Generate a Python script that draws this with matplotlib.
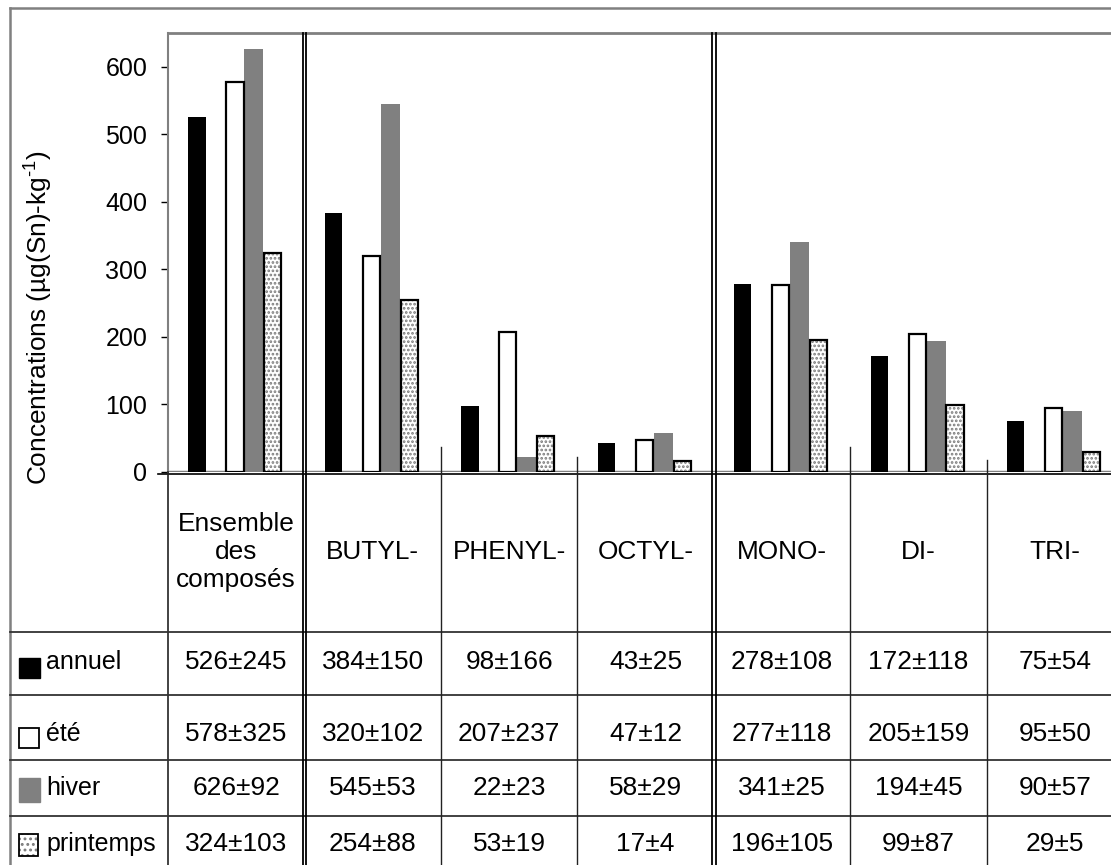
import numpy as np
import matplotlib.pyplot as plt
from matplotlib import font_manager
from matplotlib.patches import Rectangle
from matplotlib.transforms import blended_transform_factory

# donnees
categories = ['Ensemble\ndes\ncomposés', 'BUTYL-', 'PHENYL-', 'OCTYL-',
              'MONO-', 'DI-', 'TRI-']
saisons = ['annuel', 'été', 'hiver', 'printemps']
annuel = [526, 384, 98, 43, 278, 172, 75]
ete = [578, 320, 207, 47, 277, 205, 95]
hiver = [626, 545, 22, 58, 341, 194, 90]
printemps = [324, 254, 53, 17, 196, 99, 29]
annuel_sd = [245, 150, 166, 25, 108, 118, 54]
ete_sd = [325, 102, 237, 12, 118, 159, 50]
hiver_sd = [92, 53, 23, 29, 25, 45, 57]
printemps_sd = [103, 88, 19, 4, 105, 87, 5]
yticks = [0, 100, 200, 300, 400, 500, 600]

# police etroite si dispo
noms = {f.name for f in font_manager.fontManager.ttflist}
if 'Liberation Sans Narrow' in noms:
    fam, k = 'Liberation Sans Narrow', 1.0
else:
    fam, k = 'Liberation Sans', 0.9
plt.rcParams['font.family'] = [fam, 'DejaVu Sans']
plt.rcParams['hatch.linewidth'] = 1.3

W, H = 1111, 865
GRIS = '#808080'
fig = plt.figure(figsize=(W / 100, H / 100), dpi=100)

ax = fig.add_axes([168 / W, 1 - 472 / H, 1 - 168 / W, (472 - 33) / H])
x = np.arange(len(categories))
pas = 0.139
lw = 0.127
dx = -0.01

ax.bar(x - 2 * pas + dx, annuel, lw, color='black', zorder=3)
ax.bar(x + dx, ete, lw, color='white', edgecolor='black', linewidth=1.6, zorder=3)
ax.bar(x + pas + dx, hiver, pas, color=GRIS, zorder=2)
ax.bar(x + 2 * pas + dx, printemps, lw, color='white', edgecolor='#7a7a7a',
       hatch='....', linewidth=0, zorder=3)
ax.bar(x + 2 * pas + dx, printemps, lw, fill=False, edgecolor='black',
       linewidth=1.6, zorder=4)

ax.set_xlim(-0.5, 6.41)
ax.set_ylim(0, 650)
ax.set_yticks(yticks)
ax.set_xticks([])
ax.tick_params(axis='y', direction='out', length=5, width=1, pad=10,
               labelsize=20 * k)
for s in ['right', 'bottom']:
    ax.spines[s].set_visible(False)
ax.spines['top'].set_color(GRIS)
ax.spines['left'].set_color(GRIS)
ax.spines['top'].set_linewidth(2)
ax.spines['left'].set_linewidth(1.5)
ax.axhline(0, color=GRIS, lw=2.5, zorder=1)

# calque pour le tableau (coordonnees pixels)
fr = fig.add_axes([0, 0, 1, 1], zorder=5)
fr.set_xlim(0, W)
fr.set_ylim(H, 0)
fr.axis('off')
tr = blended_transform_factory(ax.transData, fr.transData)

fr.plot([10, W], [8, 8], color=GRIS, lw=1.8)
fr.plot([10, 10], [8, H], color=GRIS, lw=1.8)
fr.plot([158, W], [473.5, 473.5], color='black', lw=1.2)
fr.plot([168, 168], [472, H], color='#222222', lw=1.2)
for yy in [632, 695, 760, 816]:
    fr.plot([10, W], [yy, yy], color='#333333', lw=1.3)

# separations de groupes (doubles) et colonnes
for b in [0.5, 3.5]:
    for d in [-0.012, 0.012]:
        fr.plot([b + d, b + d], [33, H], color='black', lw=1.3, transform=tr)
for b, y0 in zip([1.5, 2.5, 4.5, 5.5], [447, 457, 447, 460]):
    fr.plot([b, b], [y0, H], color='#222222', lw=1.0, transform=tr)

fr.text(38, 318, 'Concentrations (µg(Sn)-kg$^{\\mathregular{\u20101}}$)',
        rotation=90, ha='center', va='center', fontsize=21 * k)

# entetes
for i, c in enumerate(categories):
    fr.text(i, 552, c, transform=tr, ha='center', va='center',
            fontsize=21 * k, linespacing=1.22)

# lignes du tableau
valeurs = [(annuel, annuel_sd), (ete, ete_sd), (hiver, hiver_sd),
           (printemps, printemps_sd)]
ytxt = [662, 734, 788, 844]
yc = [668, 738, 790, 845]
for r, (nom, (v, sd)) in enumerate(zip(saisons, valeurs)):
    for i in range(len(categories)):
        fr.text(i, ytxt[r], f'{v[i]}±{sd[i]}', transform=tr, ha='center',
                va='center', fontsize=21 * k)
    fr.text(46, ytxt[r], nom, ha='left', va='center', fontsize=20 * k)

fr.add_patch(Rectangle((19, yc[0] - 10), 21, 20, facecolor='black',
                       edgecolor='black', lw=1))
fr.add_patch(Rectangle((19, yc[1] - 10), 20, 20, facecolor='white',
                       edgecolor='black', lw=1.3))
fr.add_patch(Rectangle((19, yc[2] - 12), 21, 24, facecolor=GRIS,
                       edgecolor=GRIS, lw=1))
fr.add_patch(Rectangle((19, yc[3] - 11), 19, 22, facecolor='white',
                       edgecolor='#7a7a7a', hatch='...', lw=0))
fr.add_patch(Rectangle((19, yc[3] - 11), 19, 22, fill=False,
                       edgecolor='black', lw=1.3))

fig.savefig('out.png', dpi=100)
